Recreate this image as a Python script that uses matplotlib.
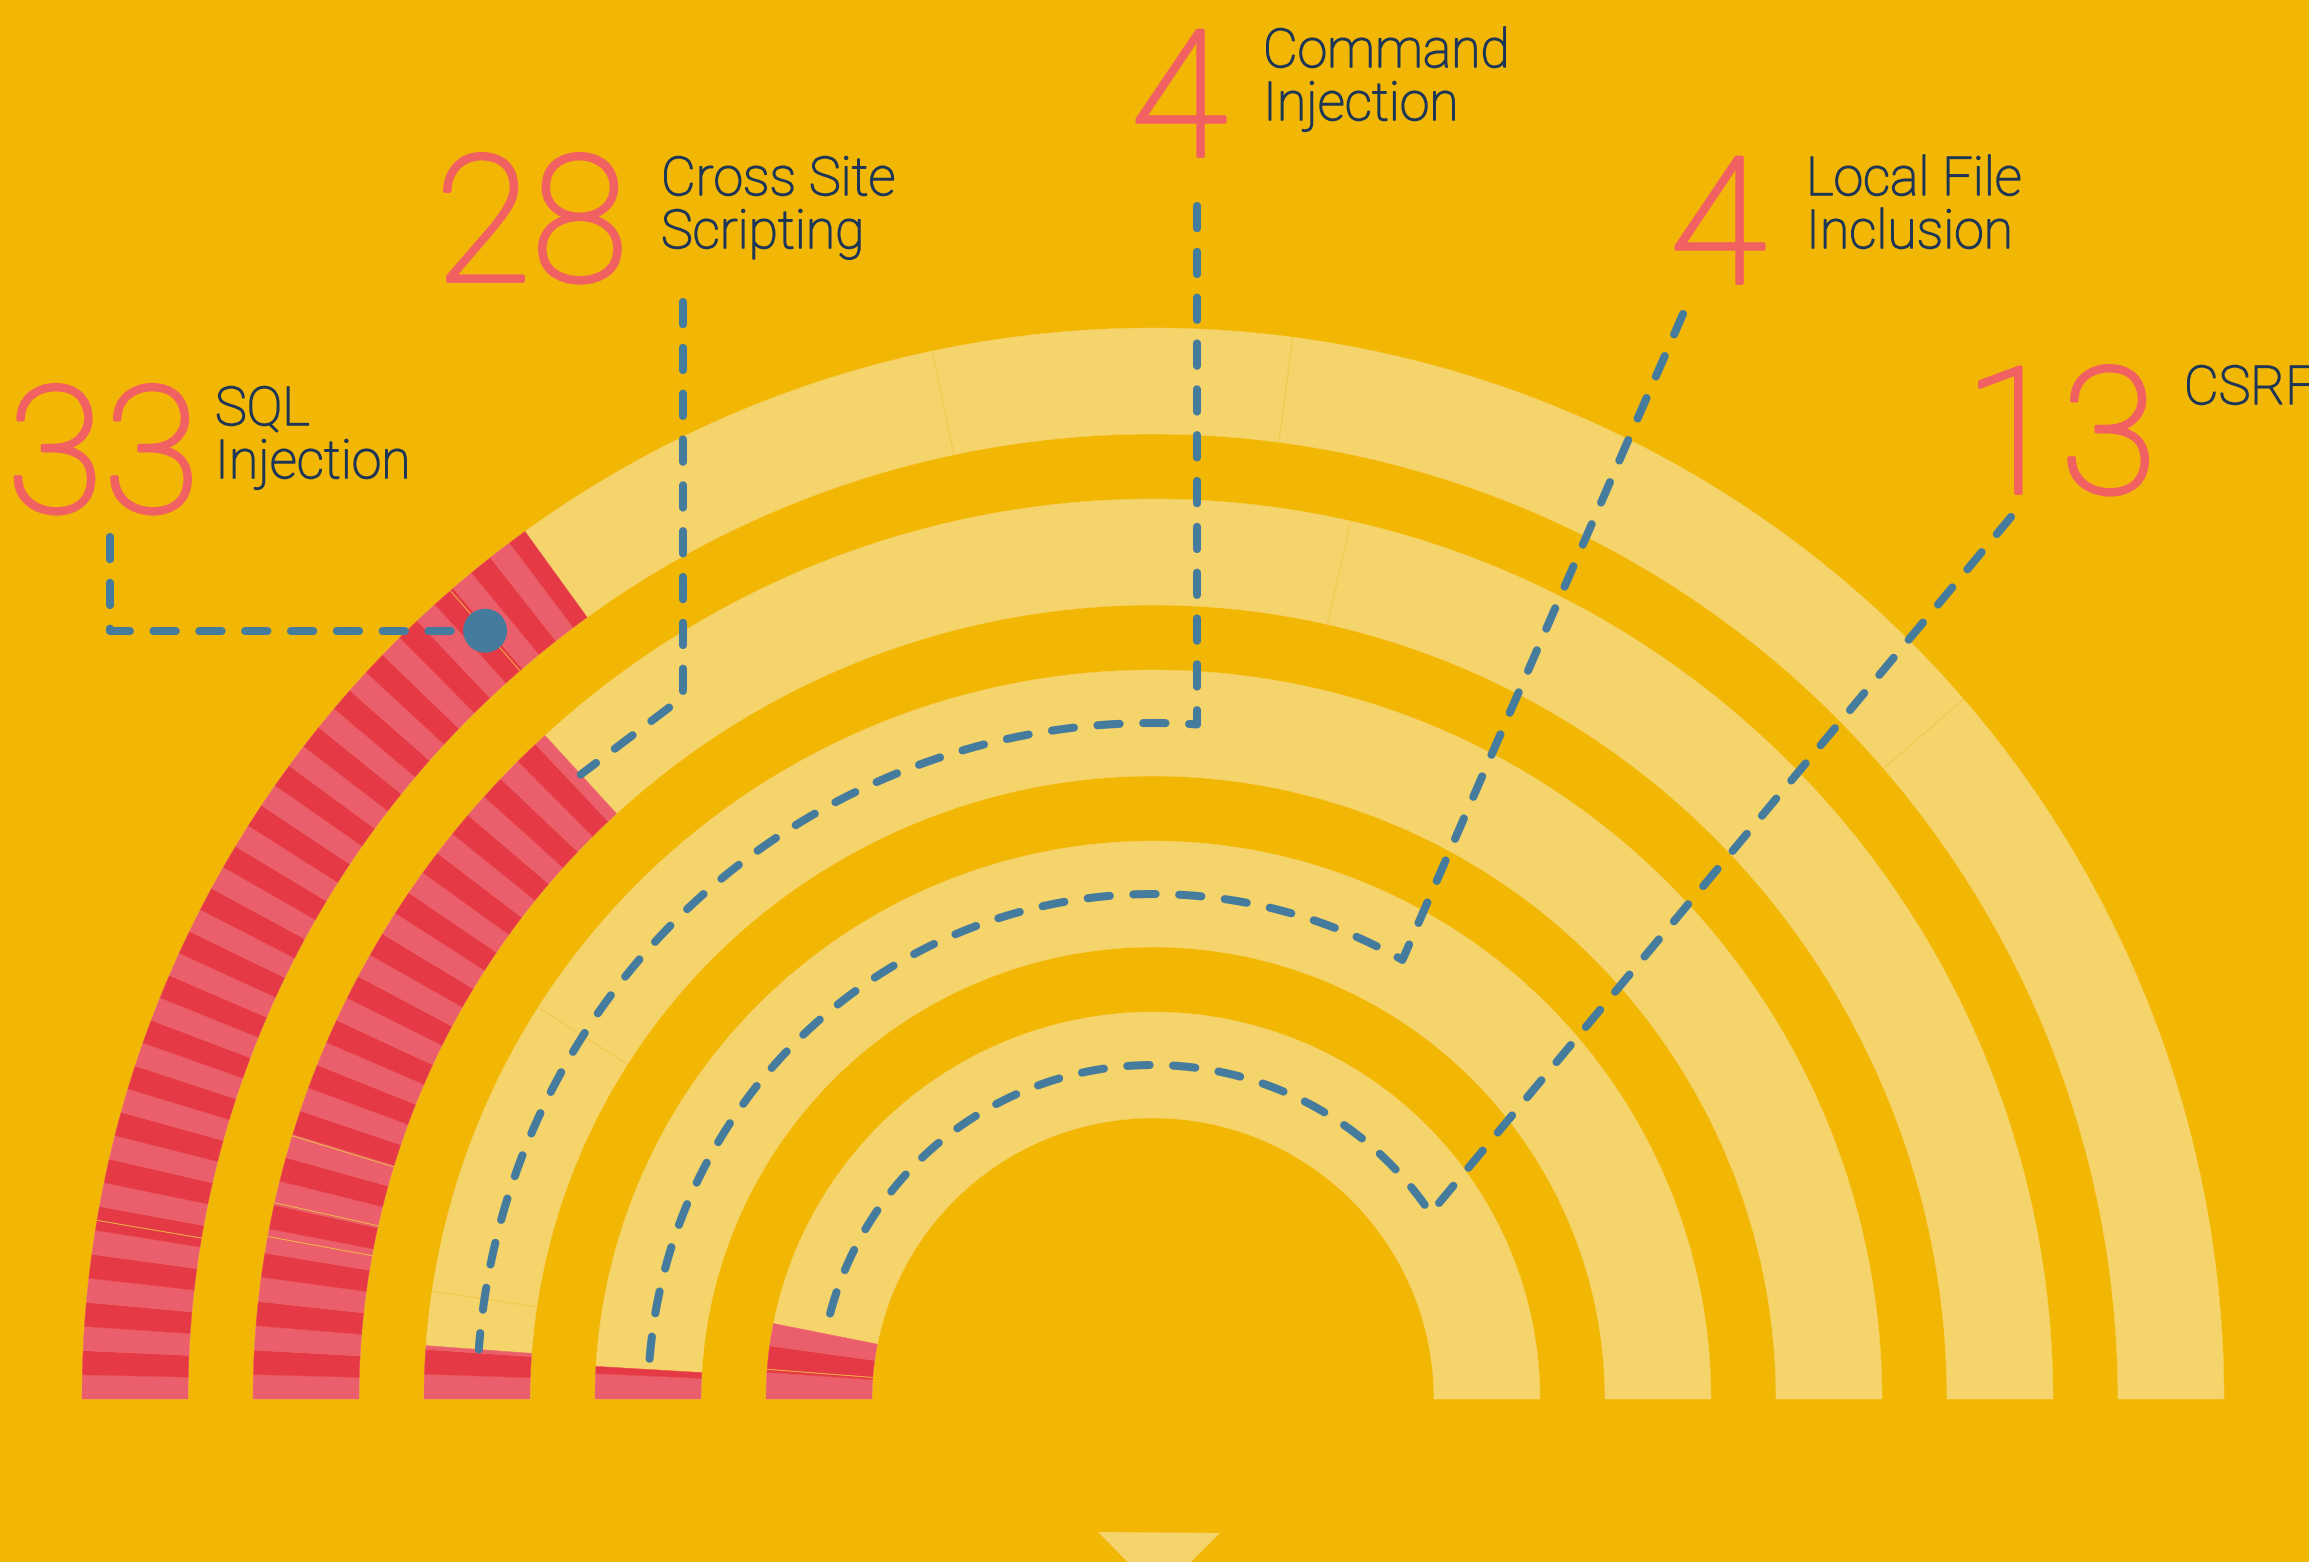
import matplotlib
matplotlib.use("Agg")
import matplotlib.pyplot as plt
from matplotlib.patches import Wedge, Polygon, Circle
import matplotlib.patheffects as pe
import numpy as np

plt.rcParams['lines.scale_dashes'] = False

# ---------------- data ----------------
categories = ["SQL\nInjection", "Cross Site\nScripting", "Command\nInjection",
              "Local File\nInclusion", "CSRF"]
counts = [33, 28, 4, 4, 13]
# filled (red) part of each semicircular ring, in degrees of the 180° ring
red_arc_deg = [54.1, 47.5, 4.2, 3.35, 11.25]
# faint segment seams on each ring (degrees)
seam_deg = [[170.4, 131.0, 101.9, 82.5, 40.8],
            [169.6, 167.4, 163.0, 77.3],
            [171.5, 147.5],
            [],
            [175.6]]

# ---------------- style / layout ----------------
W, H = 2309, 1562
BG = "#F2B705"
LIGHT = "#F6D46C"
RED = "#E63946"
PINK = "#EA5F6B"
NUM = "#F26161"
NAVY = "#1D3557"
BLUE = "#457B9D"
SEAM = "#F1C545"

cx, cy = 1153, H - 1399
ring_outer = [1071, 900, 729, 558, 387]
ring_w = 106
stripe_px = 23

num_right = [200, 628, 1227, 1766, 2157]
num_base = [512, 281, 156, 283, 493]
lab_left = [215, 661, 1263, 1806, 2184]
lab_base = [425, 195, 67, 195, 404]
line_gap = 53
leader_start = [(110, 537), (683, 302), (1197, 206), (1683, 314), (2011, 517)]

fig = plt.figure(figsize=(W / 100, H / 100), dpi=100, facecolor=BG)
ax = fig.add_axes([0, 0, 1, 1])
ax.set_xlim(0, W)
ax.set_ylim(0, H)
ax.set_aspect("equal")
ax.axis("off")
ax.set_facecolor(BG)


def Y(y):
    return H - y


def pol(r, deg):
    t = np.radians(deg)
    return cx + r * np.cos(t), cy + r * np.sin(t)


# rings
for i, ro in enumerate(ring_outer):
    ax.add_patch(Wedge((cx, cy), ro, 0, 180, width=ring_w, fc=LIGHT, ec=LIGHT, lw=0.3))
    rmid = ro - ring_w / 2
    step = np.degrees(stripe_px / rmid)
    end = 180 - red_arc_deg[i]
    a0, k = 180.0, 0
    while a0 > end + 1e-6:
        a1 = max(a0 - step, end)
        c = PINK if k % 2 == 0 else RED
        ax.add_patch(Wedge((cx, cy), ro, a1, a0, width=ring_w, fc=c, ec=c, lw=0.3))
        a0, k = a1, k + 1
    for s in seam_deg[i]:
        x0, y0 = pol(ro - ring_w, s)
        x1, y1 = pol(ro, s)
        ax.plot([x0, x1], [y0, y1], color=SEAM, lw=0.6, solid_capstyle="butt")

# bottom pointer triangle
ax.add_patch(Polygon([(1098, Y(1532)), (1220, Y(1533)), (1159, Y(1594))],
                     closed=True, fc=LIGHT, ec="none"))

dash_kw = dict(color=BLUE, lw=5.8, linestyle=(0, (16, 17)),
               dash_capstyle="round", solid_joinstyle="round", zorder=5)


def arc_pts(r, a_from, a_to, n=200):
    t = np.linspace(a_from, a_to, n)
    return list(cx + r * np.cos(np.radians(t))), list(cy + r * np.sin(np.radians(t)))


rmids = [ro - ring_w / 2 for ro in ring_outer]

# SQL leader: down then right to a dot on ring 1
dx_, dy_ = pol(rmids[0], 131.0)
sx, sy = leader_start[0]
ax.plot([sx, sx, dx_], [Y(sy), dy_, dy_], **dash_kw)
ax.add_patch(Circle((dx_, dy_), 22, fc=BLUE, ec="none", zorder=6))

# XSS leader: down then diagonal to end of red on ring 2
sx, sy = leader_start[1]
ex, ey = pol(rmids[1], 180 - red_arc_deg[1])
ax.plot([sx, sx, ex], [Y(sy), Y(697), ey], **dash_kw)

# Command Injection: down to ring 3, then along ring to end of red
sx, sy = leader_start[2]
th = np.degrees(np.arccos((sx - cx) / rmids[2]))
xs, ys = arc_pts(rmids[2], th, 180 - red_arc_deg[2])
ax.plot([sx] + xs, [Y(sy)] + ys, **dash_kw)

# LFI: diagonal to ring 4, then along ring
sx, sy = leader_start[3]
xs, ys = arc_pts(rmids[3], 60.4, 180 - red_arc_deg[3])
ax.plot([sx] + xs, [Y(sy)] + ys, **dash_kw)

# CSRF: diagonal to ring 5, then along ring
sx, sy = leader_start[4]
xs, ys = arc_pts(rmids[4], 33.8, 180 - red_arc_deg[4])
ax.plot([sx] + xs, [Y(sy)] + ys, **dash_kw)

# texts
num_fx = [pe.withStroke(linewidth=2.8, foreground=NUM)]
lab_fx = [pe.withStroke(linewidth=1.1, foreground=NAVY)]
for i, (cat, n) in enumerate(zip(categories, counts)):
    ax.text(num_right[i], Y(num_base[i]), str(n), color=NUM, fontsize=127,
            family="Roboto", fontweight="light", ha="right", va="baseline",
            zorder=7, path_effects=num_fx)
    for j, line in enumerate(cat.split("\n")):
        ax.text(lab_left[i], Y(lab_base[i] + j * line_gap), line, color=NAVY,
                fontsize=38.5, family="Roboto", fontweight="light",
                ha="left", va="baseline", zorder=7, path_effects=lab_fx)

fig.savefig("out.png", dpi=100, facecolor=BG)
